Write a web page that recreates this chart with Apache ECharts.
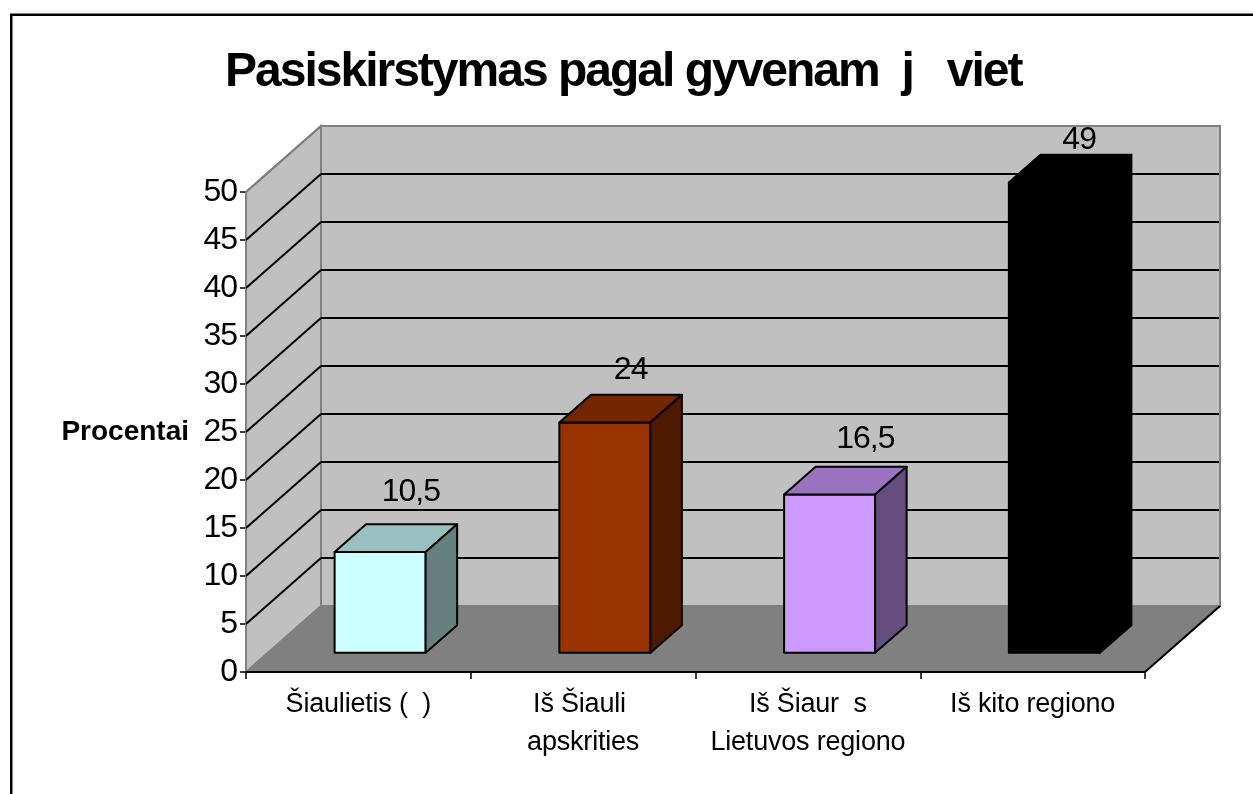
<!DOCTYPE html>
<html>
<head>
<meta charset="utf-8">
<style>html,body{margin:0;padding:0;background:#fff}#c{width:1253px;height:794px}</style>
<script src="https://cdn.jsdelivr.net/npm/echarts@6/dist/echarts.min.js"></script>
</head>
<body>
<div id="c"></div>
<script>
const categories = ['Šiaulietis (  )', 'Iš Šiauli \napskrities', 'Iš Šiaur  s\nLietuvos regiono', 'Iš kito regiono'];
const values = [10.5, 24, 16.5, 49];
const valueLabels = ['10,5', '24', '16,5', '49'];
const frontColors = ['#CCFFFF', '#993300', '#CC99FF', '#000000'];
const topColors = ['#99C0C0', '#732600', '#9973BF', '#000000'];
const sideColors = ['#668080', '#4D1A00', '#664D80', '#000000'];
const gridTicks = [5, 10, 15, 20, 25, 30, 35, 40, 45, 50];
const labelRise = [32, 25, 28, 15];
const labelShift = [15, 10, 20, 9];

// The reference uses tightly tracked text: apply tracking per font size.
const tracking = {48: '-2px', 32: '-1px', 27: '-0.2px'};
const proto = CanvasRenderingContext2D.prototype;
const fontProp = Object.getOwnPropertyDescriptor(proto, 'font');
Object.defineProperty(proto, 'font', {
  configurable: true,
  get() { return fontProp.get.call(this); },
  set(v) {
    fontProp.set.call(this, v);
    const m = /(\d+(?:\.\d+)?)px/.exec(v);
    this.letterSpacing = (m && tracking[m[1]]) || '0px';
  }
});

const DX = 75, DY = -66;
const NEAR = 0.29, FAR = 0.71, BAR = 0.405;
const font = '"Liberation Sans", Arial, sans-serif';

const chart = echarts.init(document.getElementById('c'), null, {renderer: 'canvas'});
const pt = (p, d) => [p[0] + DX * d, p[1] + DY * d];

chart.setOption({
  animation: false,
  backgroundColor: '#fff',
  title: {
    text: 'Pasiskirstymas pagal gyvenam  j   viet',
    left: 220, top: 45,
    textStyle: {fontFamily: font, fontWeight: 'bold', fontSize: 48, color: '#000'}
  },
  graphic: [{
    type: 'rect', silent: true, z: 0,
    shape: {x: 11.25, y: 14.75, width: 1300, height: 840},
    style: {fill: 'none', stroke: '#000', lineWidth: 2.5}
  }],
  grid: {left: 246, right: 108, top: 192, height: 480, containLabel: false},
  xAxis: {
    type: 'category', data: categories,
    axisLine: {show: true, lineStyle: {color: '#000', width: 2}},
    axisTick: {show: true, length: 7, alignWithLabel: false, lineStyle: {color: '#000', width: 1.5}},
    axisLabel: {color: '#000', fontFamily: font, fontSize: 27, lineHeight: 38, margin: 14, interval: 0}, z: 5
  },
  yAxis: {
    type: 'value', min: 0, max: 50, interval: 5,
    name: 'Procentai', nameLocation: 'middle', nameRotate: 0, nameGap: 57,
    nameTextStyle: {color: '#000', fontFamily: font, fontWeight: 'bold', fontSize: 28, align: 'right', verticalAlign: 'middle', padding: [0, 0, 6, 0]},
    splitLine: {show: false},
    axisLine: {show: true, lineStyle: {color: '#000', width: 2}},
    axisTick: {show: true, length: 6, lineStyle: {color: '#000', width: 1.5}},
    axisLabel: {color: '#000', fontFamily: font, fontSize: 32, margin: 9}
  },
  series: [
    { // walls and floor
      type: 'custom', silent: true, z: 1, clip: false,
      data: [[0]],
      renderItem(params, api) {
        const o = api.coord([0, 0]), band = api.size([1, 0])[0];
        const l = o[0] - band / 2, r = o[0] + band * 3.5, b = o[1], t = api.coord([0, 50])[1];
        const sh = pts => ({points: pts});
        const bwLine = {stroke: '#808080', lineWidth: 2};
        return {type: 'group', children: [
          {type: 'polygon', shape: sh([pt([l, t], 1), pt([r, t], 1), pt([r, b], 1), pt([l, b], 1)]), style: {fill: '#C0C0C0', ...bwLine}},
          {type: 'polygon', shape: sh([[l, t], pt([l, t], 1), pt([l, b], 1), [l, b]]), style: {fill: '#C0C0C0', ...bwLine}},
          {type: 'polygon', shape: sh([[l, b], pt([l, b], 1), pt([r, b], 1), [r, b]]), style: {fill: '#808080', stroke: '#808080', lineWidth: 1}},
          {type: 'line', shape: {x1: r, y1: b, x2: r + DX, y2: b + DY}, style: {stroke: '#000', lineWidth: 2}}
        ]};
      }
    },
    { // grid lines on walls
      type: 'custom', silent: true, z: 2, clip: false,
      data: gridTicks.map(v => [0, v]),
      renderItem(params, api) {
        const p = api.coord([0, api.value(1)]), band = api.size([1, 0])[0];
        const l = p[0] - band / 2, r = p[0] + band * 3.5;
        const top = api.value(1) === 50;
        const s = {stroke: top ? '#808080' : '#000', lineWidth: 2};
        return {type: 'group', children: [
          {type: 'line', shape: {x1: l, y1: p[1], x2: l + DX, y2: p[1] + DY}, style: s},
          {type: 'line', shape: {x1: l + DX, y1: p[1] + DY, x2: r + DX - 1, y2: p[1] + DY}, style: s}
        ]};
      }
    },
    { // 3D bars
      type: 'custom', silent: true, z: 3, clip: false,
      data: values.map((v, i) => [i, v]),
      encode: {x: 0, y: 1},
      renderItem(params, api) {
        const i = api.value(0), v = api.value(1);
        const band = api.size([1, 0])[0], hw = band * BAR / 2;
        const b = api.coord([i, 0]), t = api.coord([i, v]);
        const nb = pt(b, NEAR), nt = pt(t, NEAR), fb = pt(b, FAR), ft = pt(t, FAR);
        const line = {stroke: '#000', lineWidth: 2, lineJoin: 'round'};
        return {type: 'group', children: [
          {type: 'polygon', shape: {points: [[nt[0] - hw, nt[1]], [nt[0] + hw, nt[1]], [nb[0] + hw, nb[1]], [nb[0] - hw, nb[1]]]}, style: {fill: frontColors[i], ...line}},
          {type: 'polygon', shape: {points: [[nt[0] - hw, nt[1]], [ft[0] - hw, ft[1]], [ft[0] + hw, ft[1]], [nt[0] + hw, nt[1]]]}, style: {fill: topColors[i], ...line}},
          {type: 'polygon', shape: {points: [[nt[0] + hw, nt[1]], [ft[0] + hw, ft[1]], [fb[0] + hw, fb[1]], [nb[0] + hw, nb[1]]]}, style: {fill: sideColors[i], ...line}},
          {type: 'text', style: {text: valueLabels[i], x: (nt[0] + ft[0]) / 2 + labelShift[i], y: ft[1] - labelRise[i], align: 'center', verticalAlign: 'middle', fontFamily: font, fontSize: 32, fill: '#000'}}
        ]};
      }
    }
  ]
});
</script>
</body>
</html>
